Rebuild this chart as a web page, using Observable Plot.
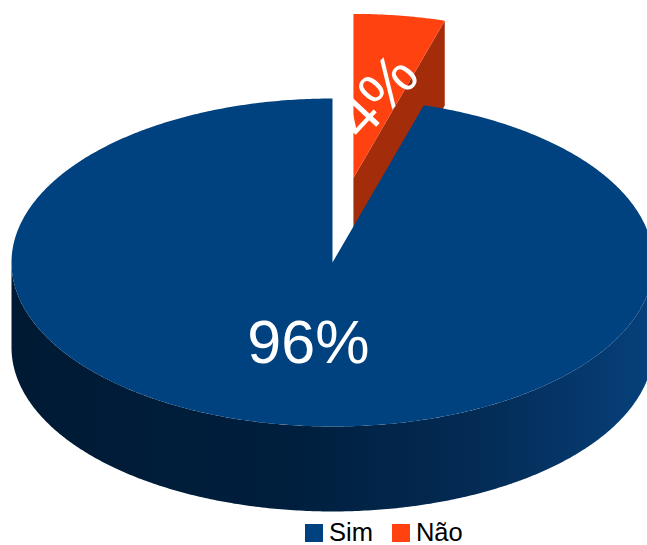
<!DOCTYPE html>
<html><head><meta charset="utf-8">
<script src="https://cdn.jsdelivr.net/npm/d3@7"></script>
<script src="https://cdn.jsdelivr.net/npm/@observablehq/plot@0.6"></script>
<style>
body{margin:0;background:#fff;font-family:"Liberation Sans",Arial,sans-serif;}
#chart svg{display:block}
#legend{padding-left:305px;}
#legend > div{font-family:"Liberation Sans",Arial,sans-serif;font-size:25.5px;color:#000;margin:0;min-height:33px;}
#legend span{margin-right:19px;}
#legend span > svg{margin-right:6px;}
</style></head><body>
<div id="chart"></div>
<div id="legend"></div>
<script>
// ---- data ----
const categories = ["Sim", "Não"];
const values = [96, 4];
const labels = ["96%", "4%"];
const palette = ["#00427f", "#ff4210"];

// ---- pie layout (clockwise from 12 o'clock, "Não" first) ----
const pieOrder = ["Não", "Sim"];
const total = d3.sum(values);
let acc = 0;
const slices = pieOrder.map(c => {
  const i = categories.indexOf(c);
  const a0 = acc / total * 2 * Math.PI; acc += values[i];
  const a1 = acc / total * 2 * Math.PI;
  return {category: c, value: values[i], label: labels[i], a0, a1, mid: (a0 + a1) / 2};
});
const DEPTH = 0.518;
const EXPLODE = {"Não": 0.52, "Sim": 0};
// perspective-like angular warp of the tilted disc
const warp = a => a + 0.077 * Math.sin(2 * a);
function pt(s, r, a, z = 0) {
  const e = EXPLODE[s.category];
  const w = warp(a);
  return {x: e * Math.sin(s.mid) + r * Math.sin(w), y: e * Math.cos(s.mid) + r * Math.cos(w) - z * DEPTH};
}
function arc(s, a0, a1, z) {
  const n = Math.max(2, Math.ceil(Math.abs(a1 - a0) / (Math.PI / 360)));
  return d3.range(n + 1).map(k => pt(s, 1, a0 + (a1 - a0) * k / n, z));
}
const drawOrder = slices.slice().sort((p, q) => EXPLODE[q.category] - EXPLODE[p.category]);
const walls = [], sides = [], tops = [];
drawOrder.forEach((s, k) => {
  if (EXPLODE[s.category] > 0) {
    if (Math.sin(s.a1) > 1e-6) {
      [pt(s,0,0,0), pt(s,1,s.a1,0), pt(s,1,s.a1,1), pt(s,0,0,1)].forEach(p => walls.push({...p, id: s.category + "-w1", category: s.category, layer: k}));
    }
    if (Math.sin(s.a0) < -1e-6) {
      [pt(s,0,0,0), pt(s,1,s.a0,0), pt(s,1,s.a0,1), pt(s,0,0,1)].forEach(p => walls.push({...p, id: s.category + "-w0", category: s.category, layer: k}));
    }
  }
  const f0 = Math.max(s.a0, Math.PI / 2), f1 = Math.min(s.a1, 3 * Math.PI / 2);
  if (f1 > f0) {
    [...arc(s, f0, f1, 0), ...arc(s, f1, f0, 1)].forEach(p => sides.push({...p, id: s.category + "-side", category: s.category, layer: k}));
  }
  [pt(s, 0, 0, 0), ...arc(s, s.a0, s.a1, 0)].forEach(p => tops.push({...p, id: s.category + "-top", category: s.category, layer: k}));
});

const FONT = "Liberation Sans, Arial, sans-serif";
const marks = [];
drawOrder.forEach((s, k) => {
  const w = walls.filter(d => d.layer === k);
  const sd = sides.filter(d => d.layer === k);
  const t = tops.filter(d => d.layer === k);
  if (w.length) marks.push(Plot.line(w, {x: "x", y: "y", z: "id", fill: "#a32c0b", stroke: "none", curve: "linear-closed"}));
  if (sd.length) marks.push(Plot.line(sd, {x: "x", y: "y", z: "id", fill: "url(#sideGrad)", stroke: "none", curve: "linear-closed"}));
  marks.push(Plot.line(t, {x: "x", y: "y", z: "id", fill: "category", stroke: "none", curve: "linear-closed"}));
  marks.push(Plot.text([s], {
    x: d => pt(d, 0.52, d.mid).x, y: d => pt(d, 0.5, d.mid).y, text: "label",
    rotate: d => EXPLODE[d.category] > 0 ? -47 : 0,
    fill: "white", fontSize: 61, fontFamily: FONT
  }));
});

const svg = Plot.plot({
  width: 647, height: 516, margin: 0,
  x: {domain: [-1, 1], range: [11, 653], axis: null},
  y: {domain: [-1, 1], range: [426, 98], axis: null},
  color: {domain: categories, range: palette},
  style: {background: "white"},
  marks
});
const defs = d3.select(svg).insert("defs", ":first-child");
const g = defs.append("linearGradient").attr("id", "sideGrad").attr("gradientUnits", "userSpaceOnUse")
  .attr("x1", 11).attr("x2", 647).attr("y1", 0).attr("y2", 0);
[[0, "#001a34"], [0.45, "#001f3e"], [0.75, "#042c56"], [1, "#06407a"]].forEach(([o, c]) =>
  g.append("stop").attr("offset", o).attr("stop-color", c));
document.getElementById("chart").appendChild(svg);

const legend = Plot.legend({color: {domain: categories, range: palette}, swatchSize: 18, className: "lg"});
document.getElementById("legend").appendChild(legend);
</script>
</body></html>
